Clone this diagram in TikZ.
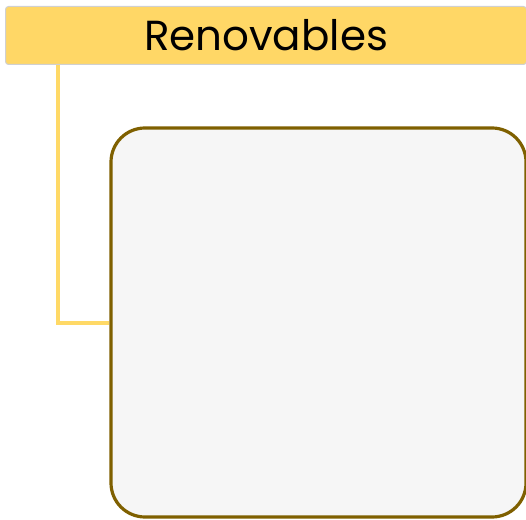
\documentclass[tikz,border=0pt]{standalone}
\usepackage{fontspec}
\setmainfont{Poppins}
\definecolor{hdrfill}{HTML}{FFD766}
\definecolor{hdrdraw}{HTML}{D0D0D0}
\definecolor{linkcol}{HTML}{FFD966}
\definecolor{boxdraw}{HTML}{7F6000}
\definecolor{boxfill}{HTML}{F6F6F6}
\tikzset{
  header/.style={draw=hdrdraw, line width=1pt, fill=hdrfill, rounded corners=3pt, minimum width=521pt, minimum height=58pt, inner sep=0pt, font=\fontsize{42}{48}\selectfont, text=black},
  bigbox/.style={draw=boxdraw, line width=3.2pt, fill=boxfill, rounded corners=34pt, minimum width=415pt, minimum height=389pt, inner sep=0pt},
  link/.style={draw=linkcol, line width=3.2pt}
}
\begin{document}
\begin{tikzpicture}[x=1pt,y=1pt]
\useasboundingbox (0,0) rectangle (526,519);
\node[header] (hdr) at (266,483.5) {Renovables};
\node[bigbox] (box) at (318.5,196.5) {};
\coordinate (bend) at (58,196);
\draw[link] (hdr.south -| bend) -- (bend) -- (box.west |- bend);
\end{tikzpicture}
\end{document}
